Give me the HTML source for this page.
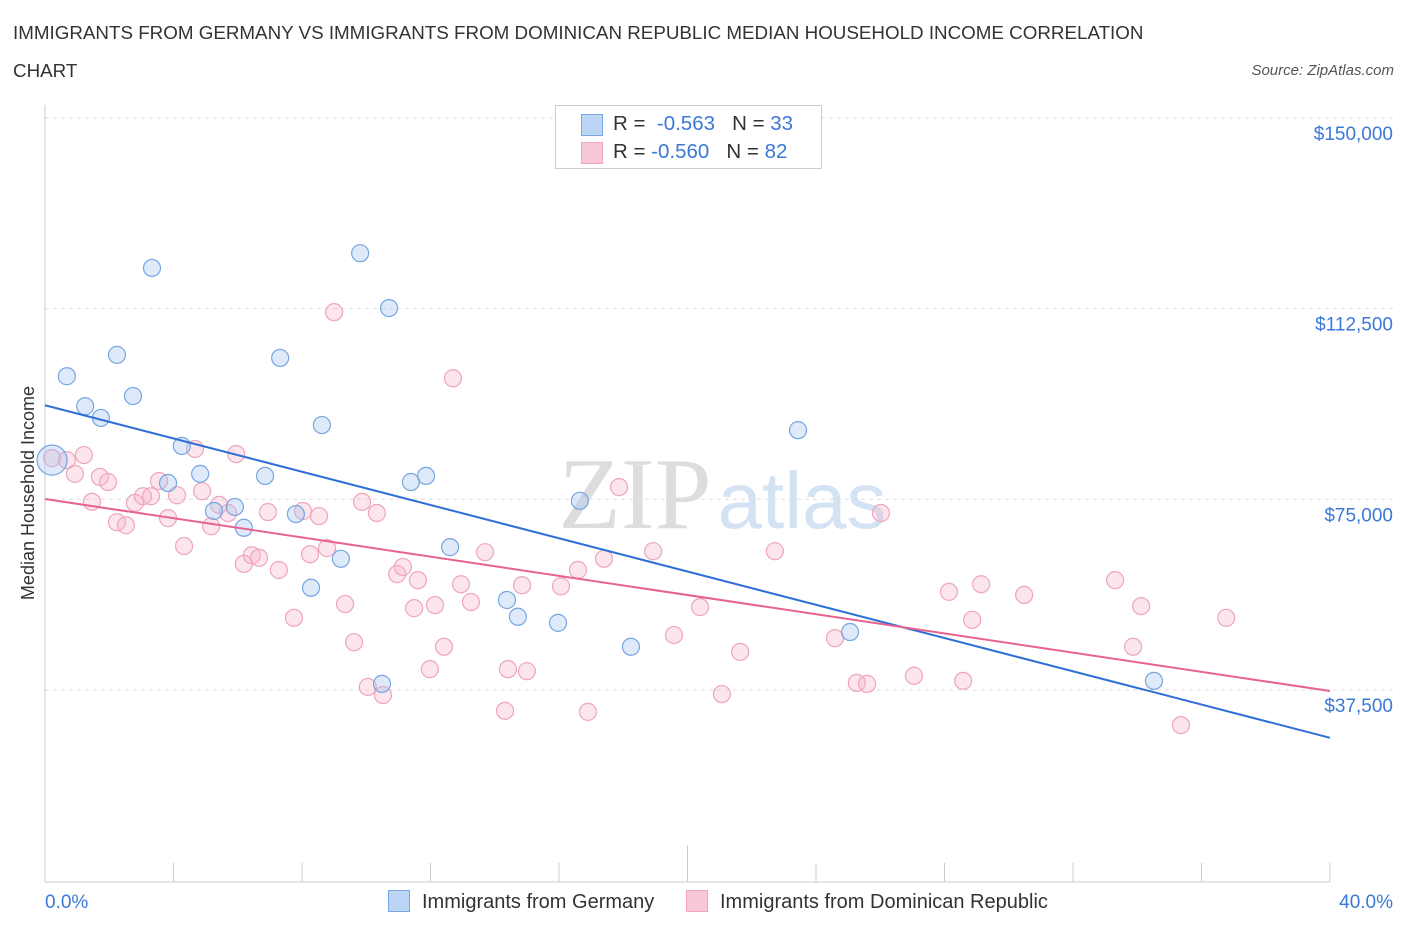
<!DOCTYPE html>
<html><head><meta charset="utf-8"><style>
body{margin:0;background:#fff;font-family:"Liberation Sans",sans-serif;}
#wrap{position:relative;width:1406px;height:930px;overflow:hidden;}
.t{position:absolute;white-space:nowrap;}
</style></head><body>
<div id="wrap">
<div class="t" style="left:13px;top:14px;font-size:18.8px;color:#333;line-height:38px;">IMMIGRANTS FROM GERMANY VS IMMIGRANTS FROM DOMINICAN REPUBLIC MEDIAN HOUSEHOLD INCOME CORRELATION<br>CHART</div>
<div class="t" style="right:12px;top:62px;font-size:15px;color:#555;font-style:italic;">Source: ZipAtlas.com</div>
<svg id="svg" width="1406" height="930" style="position:absolute;left:0;top:0"></svg>
</div>
<script>
const xTickLabels=["0.0%","40.0%"];
const yTicks=[37500,75000,112500,150000];
const yTickLabels=["$37,500","$75,000","$112,500","$150,000"];
const germanyX=[0.22,0.68,1.25,1.74,2.24,2.74,3.33,3.83,4.26,4.83,5.26,5.91,6.19,6.85,7.32,7.81,8.28,8.62,9.21,9.81,10.49,10.71,11.39,11.86,12.61,14.38,14.72,15.97,16.65,18.24,23.44,25.06,34.52];
const germanyY=[82.7,99.2,93.3,91.0,103.4,95.3,120.5,78.2,85.5,80.0,72.7,73.5,69.4,79.6,102.8,72.1,57.6,89.6,63.3,123.4,38.7,112.6,78.4,79.6,65.6,55.2,51.9,50.7,74.7,46.0,88.6,48.9,39.3];
const domX=[0.22,0.68,0.93,1.21,1.46,1.71,1.96,2.24,2.52,2.80,3.05,3.30,3.55,3.83,4.11,4.33,4.67,4.89,5.17,5.42,5.70,5.95,6.19,6.44,6.66,6.94,7.28,7.75,8.03,8.25,8.53,8.78,9.00,9.34,9.62,9.87,10.05,10.33,10.52,10.96,11.14,11.49,11.61,12.14,12.42,12.70,11.98,12.95,13.26,13.70,14.32,14.41,14.85,15.00,16.06,16.59,16.90,17.40,17.87,18.93,19.58,20.39,21.07,21.64,22.72,24.59,25.27,25.59,26.02,27.05,28.14,28.58,28.86,29.14,30.48,33.31,33.87,34.12,35.36,36.77];
const domY=[83.1,82.7,80.0,83.7,74.5,79.4,78.4,70.5,69.9,74.3,75.6,75.6,78.6,71.3,75.8,65.8,84.9,76.6,69.7,73.9,72.3,83.9,62.3,64.0,63.5,72.5,61.1,51.7,72.7,64.2,71.7,65.4,111.8,54.4,46.9,74.5,38.1,72.3,36.5,60.3,61.7,53.6,59.1,54.2,46.0,98.8,41.6,58.3,54.8,64.6,33.4,41.6,58.1,41.2,57.9,61.1,33.2,63.3,77.4,64.8,48.3,53.8,36.7,45.0,64.8,47.7,38.9,38.7,72.3,40.3,56.8,39.3,51.3,58.3,56.2,59.1,46.0,54.0,30.6,51.7];
const germanyTrend=[93.5,28.1];
const domTrend=[75.05,37.3];

const X=p=>45+p/40*1285;
const Y=k=>690-(k*1000-37500)*190.7/37500;
const svg=document.getElementById('svg');
const NS='http://www.w3.org/2000/svg';
function mk(tag,attrs,parent){const e=document.createElementNS(NS,tag);for(const k in attrs)e.setAttribute(k,attrs[k]);(parent||svg).appendChild(e);return e;}

let wm=mk('text',{x:635,y:528,'font-family':'Liberation Serif,serif','font-size':102,fill:'#ddd','text-anchor':'middle'});
wm.textContent='ZIP';


let wm2=mk('text',{x:802,y:528,'font-family':'Liberation Sans,sans-serif','font-size':80,fill:'#d4e3f4','text-anchor':'middle'});
wm2.textContent='atlas';



yTicks.forEach((v,i)=>{
 const y=Y(v/1000);
 const g=mk('line',{x1:45,x2:1395,y1:y,y2:y,stroke:'#ddd','stroke-dasharray':'4,4'});
 
 
 const t=mk('text',{x:1393,y:y+22,'text-anchor':'end','font-size':19,fill:'#3b78d8','font-family':'Liberation Sans,sans-serif'});
 t.textContent=yTickLabels[i];
 
 
});
mk('line',{x1:45,x2:45,y1:105,y2:882,stroke:'#ccc'});
mk('line',{x1:45,x2:1330,y1:882,y2:882,stroke:'#ccc'});
for(let i=0;i<=10;i++){const x=45+i*128.5;const tk=mk('line',{x1:x,x2:x,y1:i==5?845:863,y2:882,stroke:'#ccc'});
 
 }
let xl=mk('text',{x:45,y:908,'font-size':19,fill:'#3b78d8','font-family':'Liberation Sans,sans-serif'});xl.textContent=xTickLabels[0];


let xr=mk('text',{x:1393,y:908,'text-anchor':'end','font-size':19,fill:'#3b78d8','font-family':'Liberation Sans,sans-serif'});xr.textContent=xTickLabels[1];


let yt=mk('text',{transform:'translate(34,493) rotate(-90)','text-anchor':'middle','font-size':18,fill:'#333','font-family':'Liberation Sans,sans-serif'});yt.textContent='Median Household Income';



domX.forEach((x,i)=>{const c=mk('circle',{cx:X(x),cy:Y(domY[i]),r:8.5,fill:'rgba(246,180,200,0.35)',stroke:'#eea5bd','stroke-width':1.2});
 
 });
germanyX.forEach((x,i)=>{const c=mk('circle',{cx:X(x),cy:Y(germanyY[i]),r:i==0?15:8.5,fill:'rgba(160,196,240,0.35)',stroke:'#76a5e0','stroke-width':1.2});
 
 });
let l1=mk('line',{x1:X(0),y1:Y(germanyTrend[0]),x2:X(40),y2:Y(germanyTrend[1]),stroke:'#2f6fd6','stroke-width':2});


let l2=mk('line',{x1:X(0),y1:Y(domTrend[0]),x2:X(40),y2:Y(domTrend[1]),stroke:'#e8628f','stroke-width':2});


</script>
<div style="position:absolute;left:555px;top:105px;width:265px;height:62px;border:1px solid #ccc;background:#fff;font-size:20.5px;color:#333;">
 <div style="position:absolute;left:25px;top:8px;width:20px;height:20px;background:#bcd5f5;border:1px solid #7aa8e0;"></div>
 <div class="t" style="left:57px;top:6px;">R = <span style="color:#3b78d8">&nbsp;-0.563</span>&nbsp;&nbsp;&nbsp;N = <span style="color:#3b78d8">33</span></div>
 <div style="position:absolute;left:25px;top:36px;width:20px;height:20px;background:#f9c8d6;border:1px solid #eea5bd;"></div>
 <div class="t" style="left:57px;top:34px;">R = <span style="color:#3b78d8">-0.560</span>&nbsp;&nbsp;&nbsp;N = <span style="color:#3b78d8">82</span></div>
</div>
<div style="position:absolute;left:388px;top:890px;font-size:20px;color:#333;">
 <div style="position:absolute;left:0;top:0;white-space:nowrap;"><span style="display:inline-block;width:20px;height:20px;background:#bcd5f5;border:1px solid #7aa8e0;vertical-align:-4px;margin-right:12px;"></span>Immigrants from Germany</div>
 <div style="position:absolute;left:298px;top:0;white-space:nowrap;"><span style="display:inline-block;width:20px;height:20px;background:#f9c8d6;border:1px solid #eea5bd;vertical-align:-4px;margin-right:12px;"></span>Immigrants from Dominican Republic</div>
</div>
</body></html>
